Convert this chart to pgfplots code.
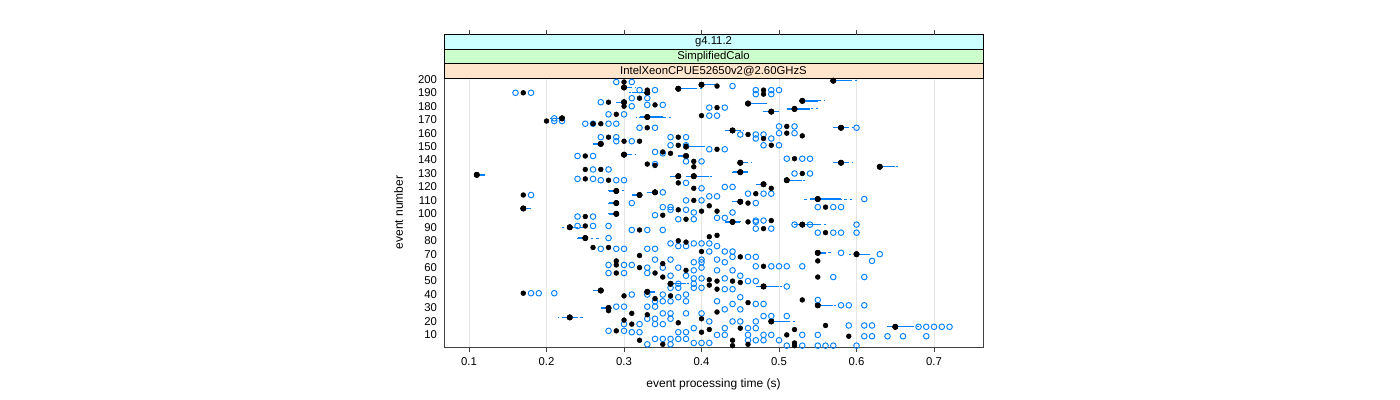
\documentclass[border=0pt]{standalone}
\usepackage{pgfplots}
\pgfplotsset{compat=1.18}
\usepackage{pgfplotstable}
\usepackage{fontspec}
\setmainfont{Liberation Sans}
\definecolor{lblue}{HTML}{0080FF}
\definecolor{stripA}{HTML}{FFE5CC}
\definecolor{stripB}{HTML}{CCFFCC}
\definecolor{stripC}{HTML}{CCFFFF}

% median per event
\pgfplotstableread{
y x
199 0.570
198 0.300
196 0.400
195 0.420
194 0.300
193 0.370
192 0.330
192 0.480
190 0.170
190 0.330
189 0.480
186 0.320
184 0.530
183 0.280
183 0.300
182 0.460
181 0.340
180 0.300
179 0.420
178 0.520
176 0.490
174 0.290
173 0.400
172 0.330
171 0.220
169 0.200
167 0.260
167 0.270
165 0.510
164 0.580
164 0.330
162 0.440
160 0.510
159 0.460
158 0.530
157 0.370
157 0.280
156 0.480
154 0.300
154 0.320
152 0.270
151 0.490
151 0.370
150 0.380
148 0.420
146 0.350
145 0.360
144 0.300
143 0.380
143 0.250
141 0.520
139 0.390
138 0.580
138 0.450
137 0.330
136 0.340
135 0.630
135 0.390
133 0.250
133 0.270
131 0.450
130 0.530
129 0.110
128 0.390
128 0.370
126 0.250
125 0.510
125 0.280
123 0.370
122 0.480
119 0.490
119 0.390
117 0.290
116 0.340
115 0.470
114 0.170
114 0.320
111 0.550
110 0.390
109 0.450
108 0.290
108 0.460
106 0.410
105 0.560
104 0.170
103 0.370
102 0.400
102 0.420
100 0.290
99 0.350
98 0.250
96 0.380
95 0.490
94 0.440
94 0.460
92 0.530
91 0.250
90 0.230
89 0.480
88 0.320
86 0.560
84 0.420
83 0.410
82 0.250
80 0.370
79 0.380
75 0.260
75 0.280
72 0.400
71 0.550
70 0.600
69 0.320
68 0.450
65 0.290
65 0.550
63 0.350
62 0.290
61 0.480
60 0.320
58 0.380
56 0.290
56 0.340
53 0.550
53 0.350
51 0.410
50 0.420
50 0.440
49 0.450
48 0.360
47 0.410
46 0.480
44 0.420
43 0.270
42 0.330
41 0.170
39 0.300
39 0.360
37 0.340
36 0.530
34 0.460
32 0.550
30 0.280
28 0.280
27 0.420
26 0.310
25 0.330
23 0.230
22 0.400
21 0.300
20 0.490
19 0.370
18 0.310
17 0.560
16 0.650
15 0.450
14 0.520
14 0.410
13 0.290
12 0.400
10 0.510
9 0.590
6 0.320
6 0.440
4 0.520
3 0.460
3 0.350
2 0.440
2 0.520
}\medians

% outlying runs
\pgfplotstableread{
y x
198 0.29
198 0.31
195 0.44
192 0.32
192 0.34
192 0.47
192 0.49
192 0.50
190 0.16
190 0.18
189 0.47
189 0.49
186 0.31
186 0.33
183 0.27
181 0.33
181 0.35
180 0.31
179 0.41
179 0.43
174 0.28
174 0.30
173 0.41
173 0.42
171 0.21
169 0.21
169 0.22
167 0.25
167 0.26
167 0.28
167 0.29
165 0.50
165 0.52
164 0.60
164 0.32
164 0.34
160 0.50
160 0.52
159 0.45
159 0.47
159 0.48
157 0.36
157 0.38
157 0.27
157 0.29
156 0.47
156 0.49
154 0.29
154 0.31
151 0.48
151 0.50
151 0.36
151 0.38
148 0.41
148 0.43
146 0.34
145 0.35
143 0.24
143 0.26
141 0.51
141 0.53
141 0.54
139 0.38
139 0.40
137 0.34
133 0.26
133 0.28
130 0.52
130 0.54
126 0.24
126 0.26
125 0.27
125 0.29
125 0.30
123 0.38
120 0.43
120 0.44
119 0.40
116 0.35
115 0.46
115 0.48
115 0.49
114 0.18
113 0.41
113 0.42
111 0.61
110 0.38
110 0.40
108 0.31
108 0.47
105 0.55
105 0.57
105 0.58
105 0.35
105 0.36
103 0.36
103 0.38
101 0.39
101 0.44
99 0.34
98 0.24
98 0.26
97 0.42
97 0.43
96 0.37
96 0.39
95 0.47
95 0.48
94 0.47
92 0.52
92 0.54
92 0.60
91 0.24
91 0.26
91 0.28
89 0.47
89 0.49
88 0.31
88 0.33
88 0.35
86 0.55
86 0.57
86 0.58
86 0.60
82 0.28
78 0.36
78 0.39
78 0.40
78 0.41
76 0.37
76 0.38
76 0.42
74 0.27
74 0.29
74 0.30
74 0.33
74 0.34
72 0.41
72 0.43
72 0.44
71 0.58
70 0.63
68 0.44
68 0.46
68 0.47
66 0.34
66 0.36
66 0.40
66 0.42
65 0.62
64 0.39
64 0.40
64 0.43
62 0.28
62 0.30
62 0.31
61 0.47
61 0.49
61 0.50
61 0.51
61 0.53
60 0.33
60 0.35
60 0.37
60 0.40
58 0.39
58 0.42
58 0.44
56 0.28
56 0.30
56 0.33
54 0.36
54 0.38
54 0.45
53 0.57
53 0.61
52 0.39
52 0.40
52 0.43
50 0.46
50 0.47
48 0.37
48 0.39
46 0.51
45 0.36
45 0.37
45 0.39
45 0.40
44 0.43
44 0.44
41 0.18
41 0.19
41 0.21
40 0.31
40 0.33
40 0.35
40 0.38
38 0.37
38 0.45
36 0.55
35 0.34
35 0.35
35 0.36
35 0.38
35 0.42
33 0.44
33 0.47
33 0.48
32 0.58
32 0.59
32 0.61
31 0.29
31 0.30
31 0.33
31 0.34
29 0.43
29 0.45
26 0.35
26 0.36
26 0.38
26 0.40
24 0.48
24 0.49
24 0.51
22 0.33
22 0.34
22 0.36
20 0.41
20 0.44
20 0.45
20 0.47
18 0.30
18 0.32
18 0.34
18 0.35
17 0.59
17 0.61
17 0.62
16 0.68
16 0.69
16 0.70
16 0.71
16 0.72
15 0.39
15 0.43
15 0.46
15 0.47
13 0.28
13 0.30
12 0.31
12 0.32
12 0.37
12 0.38
10 0.42
10 0.43
10 0.46
10 0.48
10 0.49
10 0.53
10 0.55
9 0.61
9 0.62
9 0.64
9 0.66
9 0.69
7 0.34
7 0.35
7 0.36
7 0.37
7 0.38
6 0.46
6 0.47
6 0.48
6 0.50
4 0.39
4 0.40
4 0.41
3 0.33
3 0.36
2 0.51
2 0.53
2 0.55
2 0.56
2 0.57
2 0.60
}\outl

% boxes (bm, bp) and whiskers (wm, wp) as offsets from the median
\pgfplotstableread{
y x bm bp wm wp
199 0.57 0.000 0.020 0.000 0.030
196 0.40 0.000 0.015 0.000 0.020
194 0.30 0.000 0.010 0.000 0.015
193 0.37 0.000 0.020 0.000 0.030
190 0.33 0.020 0.000 0.025 0.000
184 0.53 0.000 0.020 0.000 0.028
183 0.30 0.010 0.000 0.012 0.000
182 0.46 0.000 0.020 0.000 0.025
178 0.52 0.010 0.020 0.012 0.030
176 0.49 0.010 0.010 0.012 0.012
172 0.33 0.010 0.020 0.015 0.030
171 0.22 0.010 0.000 0.015 0.000
164 0.58 0.010 0.010 0.010 0.020
162 0.44 0.010 0.010 0.012 0.015
152 0.27 0.010 0.000 0.012 0.000
150 0.38 0.000 0.020 0.000 0.025
144 0.30 0.000 0.010 0.000 0.015
143 0.38 0.010 0.000 0.012 0.000
138 0.58 0.010 0.010 0.012 0.015
138 0.45 0.000 0.010 0.000 0.015
135 0.63 0.000 0.020 0.000 0.025
131 0.45 0.010 0.010 0.012 0.012
129 0.11 0.000 0.010 0.000 0.010
128 0.39 0.010 0.020 0.012 0.025
128 0.37 0.010 0.000 0.012 0.000
125 0.51 0.000 0.020 0.000 0.025
122 0.48 0.010 0.000 0.012 0.000
117 0.29 0.010 0.000 0.012 0.012
116 0.34 0.010 0.000 0.012 0.000
114 0.32 0.010 0.000 0.012 0.000
111 0.55 0.010 0.030 0.020 0.045
109 0.45 0.010 0.000 0.012 0.000
108 0.29 0.010 0.000 0.012 0.000
104 0.17 0.000 0.010 0.000 0.010
100 0.29 0.010 0.000 0.012 0.000
94 0.44 0.010 0.010 0.012 0.012
92 0.53 0.010 0.020 0.012 0.030
90 0.23 0.000 0.010 0.010 0.020
82 0.25 0.010 0.000 0.012 0.020
71 0.55 0.000 0.010 0.000 0.020
70 0.60 0.000 0.015 0.010 0.020
48 0.36 0.000 0.020 0.000 0.025
46 0.48 0.010 0.020 0.012 0.025
43 0.27 0.010 0.000 0.012 0.000
42 0.33 0.000 0.010 0.000 0.012
32 0.55 0.000 0.020 0.000 0.025
30 0.28 0.010 0.000 0.012 0.000
23 0.23 0.010 0.010 0.015 0.020
20 0.49 0.000 0.020 0.000 0.030
16 0.65 0.010 0.020 0.012 0.030
}\boxes

\begin{document}
\begin{tikzpicture}
\useasboundingbox (0,0) rectangle (1050pt,300pt);
\begin{axis}[
    at={(333pt,39.75pt)}, anchor=south west,
    width=404.25pt, height=201.75pt, scale only axis,
    xmin=0.0677, xmax=0.7632, ymin=1, ymax=201,
    clip=false,
    axis line style={black!75, line width=0.7pt},
    xtick={0.1,0.2,0.3,0.4,0.5,0.6,0.7},
    ytick={10,20,...,200},
    xtick pos=bottom, ytick pos=left,
    tick align=outside, major tick length=3.75pt,
    xtick style={black!75, line width=0.6pt},
    ytick style={draw=none},
    xmajorgrids, major grid style={black!10, line width=0.5pt},
    /pgf/number format/assume math mode=true,
    xticklabel style={/pgf/number format/fixed, /pgf/number format/precision=1, font=\fontsize{8.5}{10}\selectfont, yshift=-1pt},
    yticklabel style={font=\fontsize{8.5}{10}\selectfont, xshift=2pt},
    xlabel={event processing time (s)},
    ylabel={event number},
    label style={font=\fontsize{9}{11}\selectfont},
    xlabel style={yshift=-2.5pt},
    ylabel style={yshift=4.5pt},
]
\addplot[only marks, mark=none, forget plot,
  error bars/.cd, x dir=both, x explicit, error mark=none,
  error bar style={lblue, line width=0.75pt, dash pattern=on 2pt off 2pt}]
  table[x=x, y=y, x error plus=wp, x error minus=wm] {\boxes};
\addplot[only marks, mark=none, forget plot,
  error bars/.cd, x dir=both, x explicit, error mark=none,
  error bar style={lblue, line width=1pt}]
  table[x=x, y=y, x error plus=bp, x error minus=bm] {\boxes};
\addplot[only marks, mark=o, mark size=2.1pt, lblue, line width=0.7pt] table[x=x, y=y] {\outl};
\addplot[only marks, mark=*, mark size=1.8pt, black] table[x=x, y=y] {\medians};

% strips
\draw[black, line width=0.7pt, fill=stripA] (rel axis cs:0,1) rectangle (rel axis cs:1,1.0533);
\draw[black, line width=0.7pt, fill=stripB] (rel axis cs:0,1.0533) rectangle (rel axis cs:1,1.1066);
\draw[black, line width=0.7pt, fill=stripC] (rel axis cs:0,1.1066) rectangle (rel axis cs:1,1.16);
\node[font=\fontsize{8.5}{10}\selectfont] at (rel axis cs:0.5,1.0267) {IntelXeonCPUE52650v2@2.60GHzS};
\node[font=\fontsize{8.5}{10}\selectfont] at (rel axis cs:0.5,1.08) {SimplifiedCalo};
\node[font=\fontsize{8.5}{10}\selectfont] at (rel axis cs:0.5,1.1333) {g4.11.2};
\pgfplotsinvokeforeach{0.1,0.2,0.3,0.4,0.5,0.6,0.7}{
  \draw[black!75, line width=0.6pt] (axis cs:#1,201) ++(0pt,32.28pt) -- ++(0pt,3.75pt);
}
\end{axis}
\end{tikzpicture}
\end{document}
